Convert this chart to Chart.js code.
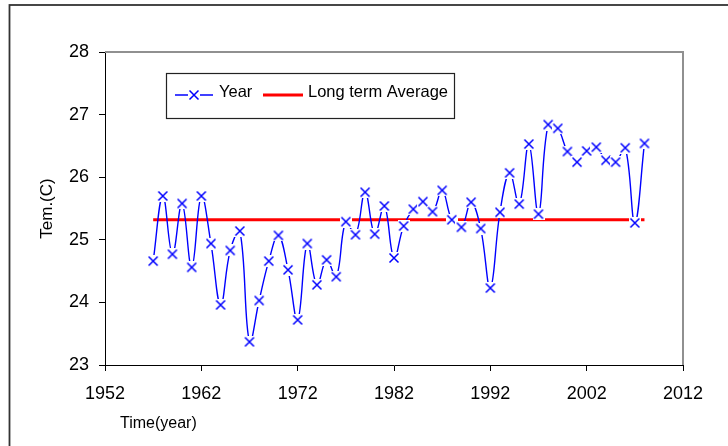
<!DOCTYPE html>
<html>
<head>
<meta charset="utf-8">
<script src="https://cdn.jsdelivr.net/npm/chart.js@4/dist/chart.umd.min.js"></script>
<style>
  html, body { margin: 0; padding: 0; background: #ffffff; }
  #wrap { width: 728px; height: 446px; }
</style>
</head>
<body>
<div id="wrap"><canvas id="chart" width="728" height="446"></canvas></div>
<script>
// Annual mean temperature, 1957-2008
const years = [
  1957, 1958, 1959, 1960, 1961, 1962, 1963, 1964, 1965, 1966,
  1967, 1968, 1969, 1970, 1971, 1972, 1973, 1974, 1975, 1976,
  1977, 1978, 1979, 1980, 1981, 1982, 1983, 1984, 1985, 1986,
  1987, 1988, 1989, 1990, 1991, 1992, 1993, 1994, 1995, 1996,
  1997, 1998, 1999, 2000, 2001, 2002, 2003, 2004, 2005, 2006,
  2007, 2008
];
const temps = [
  24.66, 25.70, 24.77, 25.58, 24.56, 25.70, 24.94, 23.96, 24.83, 25.14,
  23.37, 24.03, 24.66, 25.07, 24.52, 23.72, 24.94, 24.28, 24.68, 24.41,
  25.29, 25.08, 25.76, 25.09, 25.54, 24.71, 25.22, 25.49, 25.61, 25.45,
  25.79, 25.32, 25.20, 25.60, 25.18, 24.23, 25.44, 26.07, 25.57, 26.53,
  25.41, 26.84, 26.78, 26.41, 26.24, 26.42, 26.48, 26.27, 26.24, 26.47,
  25.27, 26.54
];
const longTermAverage = 25.32;
const xTicks = [1952, 1962, 1972, 1982, 1992, 2002, 2012];
const yTicks = [23, 24, 25, 26, 27, 28];

const FONT = "'Liberation Sans', Arial, sans-serif";
const BLUE = '#0000ff';
const RED = '#ff0000';

// "x" marker on a small white backing square
function makeMarker() {
  const c = document.createElement('canvas');
  c.width = 12; c.height = 12;
  const g = c.getContext('2d');
  g.fillStyle = '#ffffff';
  g.fillRect(0, 0, 12, 12);
  g.strokeStyle = BLUE;
  g.lineWidth = 1.5;
  g.beginPath();
  g.moveTo(1.5, 1.5); g.lineTo(10.5, 10.5);
  g.moveTo(10.5, 1.5); g.lineTo(1.5, 10.5);
  g.stroke();
  return c;
}
const marker = makeMarker();

const yearPoints = years.map((yr, i) => ({ x: yr, y: temps[i] }));
const averagePoints = [
  { x: years[0], y: longTermAverage },
  { x: years[years.length - 1], y: longTermAverage }
];

// Frame, legend box and x-axis caption
const decorations = {
  id: 'decorations',
  afterDraw(chart) {
    const ctx = chart.ctx;
    const area = chart.chartArea;
    ctx.save();

    // outer border (left and top edges)
    ctx.strokeStyle = '#333333';
    ctx.lineWidth = 1.8;
    ctx.strokeRect(9.5, 5, 760, 480);

    // plot frame on top and right
    ctx.strokeStyle = '#909090';
    ctx.lineWidth = 2;
    ctx.beginPath();
    ctx.moveTo(area.left, area.top);
    ctx.lineTo(area.right, area.top);
    ctx.lineTo(area.right, area.bottom);
    ctx.stroke();

    // legend
    const bx = 166.5, by = 73.5, bw = 288, bh = 45;
    ctx.fillStyle = '#ffffff';
    ctx.fillRect(bx, by, bw, bh);
    ctx.strokeStyle = '#222222';
    ctx.lineWidth = 1.2;
    ctx.strokeRect(bx, by, bw, bh);

    const ly = 95;
    ctx.strokeStyle = BLUE;
    ctx.lineWidth = 1.3;
    ctx.beginPath();
    ctx.moveTo(175, ly); ctx.lineTo(213, ly);
    ctx.stroke();
    ctx.drawImage(marker, 194 - 6, ly - 6);

    ctx.strokeStyle = RED;
    ctx.lineWidth = 3;
    ctx.beginPath();
    ctx.moveTo(263, ly); ctx.lineTo(303, ly);
    ctx.stroke();

    ctx.fillStyle = '#000000';
    ctx.font = '16.5px ' + FONT;
    ctx.textAlign = 'left';
    ctx.textBaseline = 'alphabetic';
    ctx.fillText('Year', 219, 97);
    ctx.fillText('Long term Average', 308, 97);

    // x-axis caption
    ctx.font = '16px ' + FONT;
    ctx.textBaseline = 'middle';
    ctx.fillText('Time(year)', 120, 424);

    ctx.restore();
  }
};

const axisGrid = {
  display: true,
  drawOnChartArea: false,
  drawTicks: true,
  tickLength: 6,
  color: '#000000',
  lineWidth: 1
};

new Chart(document.getElementById('chart'), {
  type: 'line',
  data: {
    datasets: [
      {
        label: 'Year',
        data: yearPoints,
        borderColor: BLUE,
        borderWidth: 1.4,
        tension: 0.4,
        pointStyle: marker,
        pointRadius: 5,
        pointHoverRadius: 5,
        fill: false,
        order: 0
      },
      {
        label: 'Long term Average',
        data: averagePoints,
        borderColor: RED,
        borderWidth: 3,
        pointRadius: 0,
        pointHoverRadius: 0,
        fill: false,
        order: 1
      }
    ]
  },
  options: {
    responsive: false,
    animation: false,
    events: [],
    layout: { padding: { left: 10, top: 52, right: 45, bottom: 0 } },
    plugins: {
      legend: { display: false },
      tooltip: { enabled: false },
      title: { display: false }
    },
    scales: {
      x: {
        type: 'linear',
        min: xTicks[0],
        max: xTicks[xTicks.length - 1],
        afterBuildTicks: s => { s.ticks = xTicks.map(v => ({ value: v })); },
        afterFit: s => { s.height = 81; },
        ticks: {
          color: '#000000',
          font: { family: FONT, size: 18 },
          padding: 12,
          maxRotation: 0,
          callback: v => String(v)
        },
        grid: axisGrid,
        border: { display: true, color: '#000000', width: 1 }
      },
      y: {
        type: 'linear',
        min: yTicks[0],
        max: yTicks[yTicks.length - 1],
        afterBuildTicks: s => { s.ticks = yTicks.map(v => ({ value: v })); },
        afterFit: s => { s.width = 95; },
        ticks: {
          color: '#000000',
          font: { family: FONT, size: 18 },
          padding: 10,
          callback: v => String(v)
        },
        grid: axisGrid,
        border: { display: true, color: '#000000', width: 1 },
        title: {
          display: true,
          text: 'Tem.(C)',
          color: '#000000',
          font: { family: FONT, size: 17 },
          padding: { top: 27, bottom: 0 }
        }
      }
    }
  },
  plugins: [decorations]
});
</script>
</body>
</html>
